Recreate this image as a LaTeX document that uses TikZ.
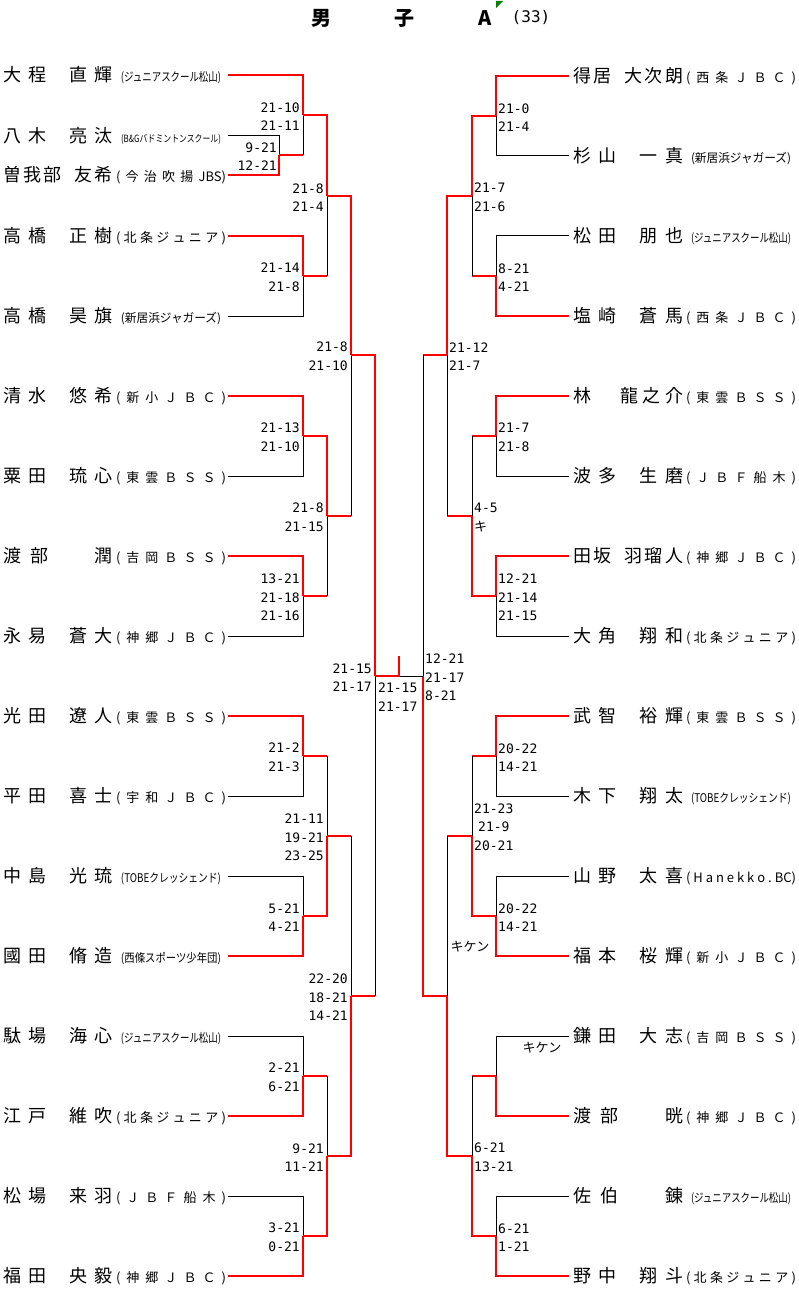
\documentclass[tikz,border=0pt]{standalone}
\usepackage{fontspec}
\usepackage{graphicx}
\usetikzlibrary{positioning}

\newfontfamily\jp{Noto Sans CJK JP}
\newfontfamily\scorefont{DejaVu Sans Mono}
\definecolor{notegreen}{RGB}{0,128,0}

% spread the characters of #2 over a box #1 wide
\makeatletter
\newcommand{\spread}[2]{\hbox to #1{\@tfor\sp@c:=#2\do{\sp@c\hskip 0pt plus 1fill}\unskip}}
\makeatother
\newcommand{\hs}{\hbox to 9pt{}}
\newcommand{\pname}[1]{{\fontsize{18}{18}\selectfont\spread{110pt}{#1}}}
\newcommand{\club}[1]{{\fontsize{13}{13}\selectfont\spread{110pt}{#1}}}
\newcommand{\clubn}[2][12]{\makebox[110pt]{\resizebox{100pt}{\height}{\fontsize{#1}{#1}\selectfont #2}}}

\begin{document}
\begin{tikzpicture}[x=1pt, y=-1pt,
  win/.style={draw=red, line width=2.4pt},
  lose/.style={draw=black, line width=1pt},
  lplayer/.style={anchor=west, inner sep=0pt, outer sep=2pt, font=\jp},
  rplayer/.style={anchor=west, inner sep=0pt, outer sep=4pt, font=\jp},
  lsc/.style={font=\scorefont\fontsize{13}{18.5}\selectfont, align=right, inner sep=0pt, yshift=-1.5pt},
  rsc/.style={font=\scorefont\fontsize{13}{18.5}\selectfont, align=left, inner sep=0pt, yshift=-1.5pt},
  note/.style={font=\jp\fontsize{13}{13}\selectfont, inner sep=0pt}]
\useasboundingbox[fill=white] (0,0) rectangle (799,1297);

% title
\node[font=\jp\bfseries\fontsize{20}{20}\selectfont, inner sep=0pt] (title) at (401.5,18) {\spread{181pt}{男子A}};
\node[font=\scorefont\fontsize{16}{16}\selectfont, inner sep=0pt] (count) at (531,17) {(33)};
\fill[notegreen] (496,1) -- (503,1) -- (496,8) -- cycle;

% left players
\node[lplayer] (l1) at (1,75) {\pname{大程{\hs}直輝}\hspace{3pt}\clubn{(ジュニアスクール松山)}};
\node[lplayer] (l2) at (1,136) {\pname{八木{\hs}亮汰}\hspace{3pt}\clubn[10]{(B\&Gバドミントンスクール)}};
\node[lplayer] (l3) at (1,175) {\pname{曽我部{\hs}友希}\hspace{3pt}\club{(今治吹揚{JBS)}}};
\node[lplayer] (l4) at (1,236) {\pname{高橋{\hs}正樹}\hspace{3pt}\club{(北条ジュニア)}};
\node[lplayer] (l5) at (1,316) {\pname{高橋{\hs}昊旗}\hspace{3pt}\clubn{(新居浜ジャガーズ)}};
\node[lplayer] (l6) at (1,396) {\pname{清水{\hs}悠希}\hspace{3pt}\club{(新小ＪＢＣ)}};
\node[lplayer] (l7) at (1,476) {\pname{粟田{\hs}琉心}\hspace{3pt}\club{(東雲ＢＳＳ)}};
\node[lplayer] (l8) at (1,556) {\pname{渡部{\hs}{\hs}潤}\hspace{3pt}\club{(吉岡ＢＳＳ)}};
\node[lplayer] (l9) at (1,636) {\pname{永易{\hs}蒼大}\hspace{3pt}\club{(神郷ＪＢＣ)}};
\node[lplayer] (l10) at (1,716) {\pname{光田{\hs}遼人}\hspace{3pt}\club{(東雲ＢＳＳ)}};
\node[lplayer] (l11) at (1,796) {\pname{平田{\hs}喜士}\hspace{3pt}\club{(宇和ＪＢＣ)}};
\node[lplayer] (l12) at (1,876) {\pname{中島{\hs}光琉}\hspace{3pt}\clubn{(TOBEクレッシェンド)}};
\node[lplayer] (l13) at (1,956) {\pname{國田{\hs}脩造}\hspace{3pt}\clubn{(西條スポーツ少年団)}};
\node[lplayer] (l14) at (1,1036) {\pname{駄場{\hs}海心}\hspace{3pt}\clubn{(ジュニアスクール松山)}};
\node[lplayer] (l15) at (1,1116) {\pname{江戸{\hs}維吹}\hspace{3pt}\club{(北条ジュニア)}};
\node[lplayer] (l16) at (1,1196) {\pname{松場{\hs}来羽}\hspace{3pt}\club{(ＪＢＦ船木)}};
\node[lplayer] (l17) at (1,1276) {\pname{福田{\hs}央毅}\hspace{3pt}\club{(神郷ＪＢＣ)}};

% right players
\node[rplayer] (r1) at (569,76) {\pname{得居{\hs}大次朗}\hspace{3pt}\club{(西条ＪＢＣ)}};
\node[rplayer] (r2) at (569,156) {\pname{杉山{\hs}一真}\hspace{3pt}\clubn{(新居浜ジャガーズ)}};
\node[rplayer] (r3) at (569,236) {\pname{松田{\hs}朋也}\hspace{3pt}\clubn{(ジュニアスクール松山)}};
\node[rplayer] (r4) at (569,316) {\pname{塩崎{\hs}蒼馬}\hspace{3pt}\club{(西条ＪＢＣ)}};
\node[rplayer] (r5) at (569,396) {\pname{林{\hs}{\hs}龍之介}\hspace{3pt}\club{(東雲ＢＳＳ)}};
\node[rplayer] (r6) at (569,476) {\pname{波多{\hs}生磨}\hspace{3pt}\club{(ＪＢＦ船木)}};
\node[rplayer] (r7) at (569,556) {\pname{田坂{\hs}羽瑠人}\hspace{3pt}\club{(神郷ＪＢＣ)}};
\node[rplayer] (r8) at (569,636) {\pname{大角{\hs}翔和}\hspace{3pt}\club{(北条ジュニア)}};
\node[rplayer] (r9) at (569,716) {\pname{武智{\hs}裕輝}\hspace{3pt}\club{(東雲ＢＳＳ)}};
\node[rplayer] (r10) at (569,796) {\pname{木下{\hs}翔太}\hspace{3pt}\clubn{(TOBEクレッシェンド)}};
\node[rplayer] (r11) at (569,876) {\pname{山野{\hs}太喜}\hspace{3pt}\club{(Hanekko.{BC)}}};
\node[rplayer] (r12) at (569,956) {\pname{福本{\hs}桜輝}\hspace{3pt}\club{(新小ＪＢＣ)}};
\node[rplayer] (r13) at (569,1036) {\pname{鎌田{\hs}大志}\hspace{3pt}\club{(吉岡ＢＳＳ)}};
\node[rplayer] (r14) at (569,1116) {\pname{渡部{\hs}{\hs}晄}\hspace{3pt}\club{(神郷ＪＢＣ)}};
\node[rplayer] (r15) at (569,1196) {\pname{佐伯{\hs}{\hs}錬}\hspace{3pt}\clubn{(ジュニアスクール松山)}};
\node[rplayer] (r16) at (569,1276) {\pname{野中{\hs}翔斗}\hspace{3pt}\club{(北条ジュニア)}};

% junctions, left
\coordinate (p0) at (279,155);
\coordinate (a1) at (303,115);
\coordinate (a2) at (303,276);
\coordinate (a3) at (303,436);
\coordinate (a4) at (303,596);
\coordinate (a5) at (303,756);
\coordinate (a6) at (303,916);
\coordinate (a7) at (303,1076);
\coordinate (a8) at (303,1236);
\coordinate (b1) at (327,196);
\coordinate (b2) at (327,516);
\coordinate (b3) at (327,836);
\coordinate (b4) at (327,1156);
\coordinate (c1) at (351,355);
\coordinate (c2) at (351,996);
\coordinate (d1) at (375,676);
% junctions, right
\coordinate (s1) at (496,116);
\coordinate (s2) at (496,276);
\coordinate (s3) at (496,436);
\coordinate (s4) at (496,596);
\coordinate (s5) at (496,756);
\coordinate (s6) at (496,916);
\coordinate (s7) at (496,1076);
\coordinate (s8) at (496,1236);
\coordinate (t1) at (472,196);
\coordinate (t2) at (472,516);
\coordinate (t3) at (472,836);
\coordinate (t4) at (472,1156);
\coordinate (u1) at (447,355);
\coordinate (u2) at (447,996);
\coordinate (e1) at (423,676);
% final
\coordinate (fin) at (399,676);
\coordinate (champ) at (399,656);

% left, first round
\draw[lose] (l2.east) -| (p0);
\draw[win] (l3.east) -| (p0);
\draw[win] (l1.east) -| (a1);
\draw[win] (p0) -- (p0 -| a1);
\draw[lose] (p0 -| a1) -- (a1);
\draw[lose] (l5.east) -| (a2);
\draw[win] (l4.east) -| (a2);
\draw[lose] (l7.east) -| (a3);
\draw[win] (l6.east) -| (a3);
\draw[lose] (l9.east) -| (a4);
\draw[win] (l8.east) -| (a4);
\draw[lose] (l11.east) -| (a5);
\draw[win] (l10.east) -| (a5);
\draw[lose] (l12.east) -| (a6);
\draw[win] (l13.east) -| (a6);
\draw[lose] (l14.east) -| (a7);
\draw[win] (l15.east) -| (a7);
\draw[lose] (l16.east) -| (a8);
\draw[win] (l17.east) -| (a8);
% left, later rounds
\draw[win] (a1) -| (b1);
\draw[win] (a2) -- (a2 -| b1);
\draw[lose] (a2 -| b1) -- (b1);
\draw[win] (a3) -| (b2);
\draw[win] (a4) -- (a4 -| b2);
\draw[lose] (a4 -| b2) -- (b2);
\draw[win] (a5) -- (a5 -| b3);
\draw[lose] (a5 -| b3) -- (b3);
\draw[win] (a6) -| (b3);
\draw[win] (a7) -- (a7 -| b4);
\draw[lose] (a7 -| b4) -- (b4);
\draw[win] (a8) -| (b4);
\draw[win] (b1) -| (c1);
\draw[win] (b2) -- (b2 -| c1);
\draw[lose] (b2 -| c1) -- (c1);
\draw[win] (b3) -- (b3 -| c2);
\draw[lose] (b3 -| c2) -- (c2);
\draw[win] (b4) -| (c2);
\draw[win] (c1) -| (d1);
\draw[win] (c2) -- (c2 -| d1);
\draw[lose] (c2 -| d1) -- (d1);

% right, first round
\draw[lose] (r2.west) -| (s1);
\draw[win] (r1.west) -| (s1);
\draw[lose] (r3.west) -| (s2);
\draw[win] (r4.west) -| (s2);
\draw[lose] (r6.west) -| (s3);
\draw[win] (r5.west) -| (s3);
\draw[lose] (r8.west) -| (s4);
\draw[win] (r7.west) -| (s4);
\draw[lose] (r10.west) -| (s5);
\draw[win] (r9.west) -| (s5);
\draw[lose] (r11.west) -| (s6);
\draw[win] (r12.west) -| (s6);
\draw[lose] (r13.west) -| (s7);
\draw[win] (r14.west) -| (s7);
\draw[lose] (r15.west) -| (s8);
\draw[win] (r16.west) -| (s8);
% right, later rounds
\draw[win] (s1) -| (t1);
\draw[win] (s2) -- (s2 -| t1);
\draw[lose] (s2 -| t1) -- (t1);
\draw[win] (s3) -- (s3 -| t2);
\draw[lose] (s3 -| t2) -- (t2);
\draw[win] (s4) -| (t2);
\draw[win] (s5) -- (s5 -| t3);
\draw[lose] (s5 -| t3) -- (t3);
\draw[win] (s6) -| (t3);
\draw[win] (s7) -- (s7 -| t4);
\draw[lose] (s7 -| t4) -- (t4);
\draw[win] (s8) -| (t4);
\draw[win] (t1) -| (u1);
\draw[win] (t2) -- (t2 -| u1);
\draw[lose] (t2 -| u1) -- (u1);
\draw[win] (t3) -- (t3 -| u2);
\draw[lose] (t3 -| u2) -- (u2);
\draw[win] (t4) -| (u2);
\draw[win] (u1) -- (u1 -| e1);
\draw[lose] (u1 -| e1) -- (e1);
\draw[win] (u2) -| (e1);

% final
\draw[lose] (e1) -- (fin);
\draw[win] (d1) -- (fin) -- (champ);

% scores, left
\node[lsc, left=2pt of p0] (sp0) {9-21\\12-21};
\node[lsc, left=3pt of a1] (sa1) {21-10\\21-11};
\node[lsc, left=3pt of a2] (sa2) {21-14\\21-8};
\node[lsc, left=3pt of a3] (sa3) {21-13\\21-10};
\node[lsc, left=3pt of a4] (sa4) {13-21\\21-18\\21-16};
\node[lsc, left=3pt of a5] (sa5) {21-2\\21-3};
\node[lsc, left=3pt of a6] (sa6) {5-21\\4-21};
\node[lsc, left=3pt of a7] (sa7) {2-21\\6-21};
\node[lsc, left=3pt of a8] (sa8) {3-21\\0-21};
\node[lsc, left=3pt of b1] (sb1) {21-8\\21-4};
\node[lsc, left=3pt of b2] (sb2) {21-8\\21-15};
\node[lsc, left=3pt of b3] (sb3) {21-11\\19-21\\23-25};
\node[lsc, left=3pt of b4] (sb4) {9-21\\11-21};
\node[lsc, left=3pt of c1] (sc1) {21-8\\21-10};
\node[lsc, left=3pt of c2] (sc2) {22-20\\18-21\\14-21};
\node[lsc, left=3pt of d1] (sd1) {21-15\\21-17};
\node[rsc, right=3pt of d1, yshift=-19.5pt] (sfin) {21-15\\21-17};
% scores, right
\node[rsc, right=2pt of s1] (ss1) {21-0\\21-4};
\node[rsc, right=2pt of s2] (ss2) {8-21\\4-21};
\node[rsc, right=2pt of s3] (ss3) {21-7\\21-8};
\node[rsc, right=2pt of s4] (ss4) {12-21\\21-14\\21-15};
\node[rsc, right=2pt of s5] (ss5) {20-22\\14-21};
\node[rsc, right=2pt of s6] (ss6) {20-22\\14-21};
\node[rsc, right=2pt of s8] (ss8) {6-21\\1-21};
\node[rsc, right=2pt of t1] (st1) {21-7\\21-6};
\node[rsc, right=2pt of t2] (st2) {4-5\\{\jp キ}};
\node[rsc, right=2pt of t3, yshift=10.5pt] (st3) {21-23\\\hspace*{4pt}21-9\\20-21};
\node[rsc, right=2pt of t4] (st4) {6-21\\13-21};
\node[rsc, right=2pt of u1] (su1) {21-12\\21-7};
\node[rsc, right=2pt of e1] (se1) {12-21\\21-17\\8-21};
\node[note] (kiken1) at (470,947) {キケン};
\node[note] (kiken2) at (542,1048) {キケン};
\end{tikzpicture}
\end{document}
